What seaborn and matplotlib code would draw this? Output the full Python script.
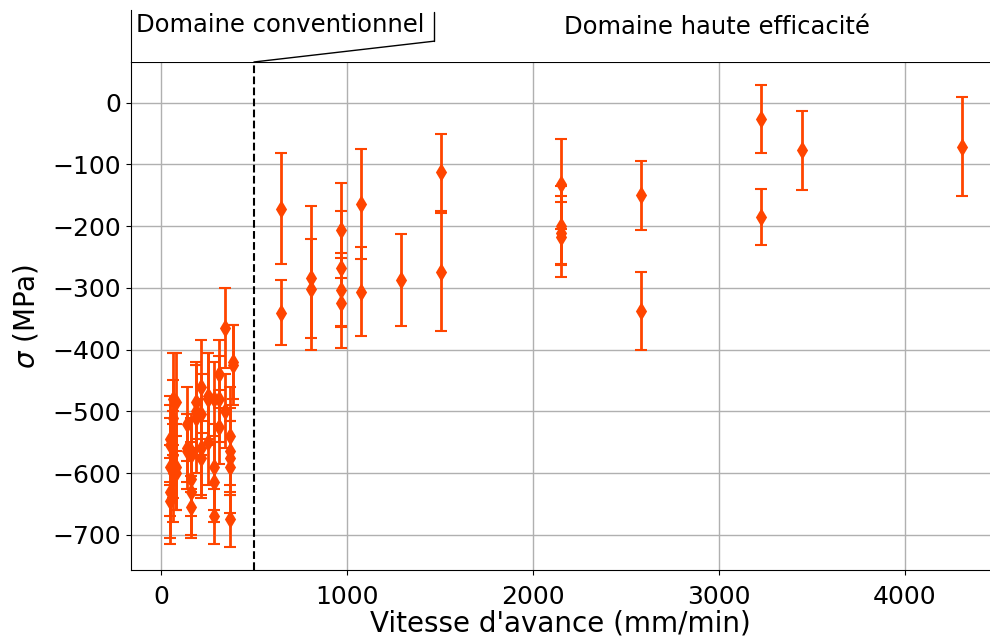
import numpy as np
import pandas as pd
import seaborn as sns
import matplotlib.pyplot as plt

# Feed rate (mm/min), residual stress (MPa) and its uncertainty
vitesse = [50, 50, 50, 50, 50, 65, 65, 65, 65, 80, 80, 80,
           140, 140, 140, 160, 160, 160, 160, 160, 190, 190, 190,
           215, 215, 215, 215, 255, 255, 255, 285, 285, 285, 285,
           310, 310, 310, 345, 345, 370, 370, 370, 370, 370, 385, 385,
           645, 645, 805, 805, 968, 968, 968, 968, 1075, 1075, 1290,
           1505, 1505, 2150, 2150, 2150, 2150, 2580, 2580, 3225, 3225,
           3446, 4306]
sigma = [-545, -555, -590, -630, -645, -570, -600, -510, -480, -485, -600, -590,
         -520, -565, -560, -570, -610, -630, -655, -565, -485, -500, -510,
         -460, -560, -575, -505, -480, -550, -475, -480, -590, -615, -670,
         -440, -525, -480, -365, -500, -540, -565, -590, -675, -575, -425, -420,
         -172, -340, -284, -301, -207, -268, -304, -324, -164, -306, -287,
         -113, -274, -131, -199, -211, -217, -150, -337, -26, -185,
         -77, -71]
erreur = [70, 65, 80, 75, 70, 70, 80, 60, 75, 80, 60, 70,
          60, 60, 55, 60, 60, 70, 50, 60, 60, 75, 90,
          75, 80, 60, 65, 75, 70, 70, 60, 70, 65, 45,
          55, 60, 70, 65, 60, 80, 70, 75, 45, 60, 65, 60,
          90, 52, 117, 80, 77, 93, 60, 73, 89, 72, 74,
          62, 96, 73, 64, 50, 66, 56, 63, 55, 45,
          64, 80]

df = pd.DataFrame({'vitesse': vitesse, 'sigma': sigma, 'erreur': erreur})

couleur = '#ff4500'
sns.set_style('ticks')
plt.rcParams['font.family'] = ['DejaVu Sans']
plt.rcParams['text.color'] = 'black'
plt.rcParams['axes.labelcolor'] = 'black'
plt.rcParams['xtick.color'] = 'black'
plt.rcParams['ytick.color'] = 'black'
plt.rcParams['axes.edgecolor'] = 'black'

fig = plt.figure(figsize=(9.9, 6.41), dpi=100)
ax = fig.add_axes([0.1323, 0.1108, 0.8677, 0.7925])

ax.errorbar(df['vitesse'], df['sigma'], yerr=df['erreur'], fmt='none',
            ecolor=couleur, elinewidth=2, capsize=4.5, capthick=1.5, zorder=2)
sns.scatterplot(data=df, x='vitesse', y='sigma', marker='d', s=90,
                color=couleur, edgecolor=couleur, linewidth=0, ax=ax, zorder=3)

ax.axvline(500, color='black', linestyle='--', linewidth=1.5, zorder=4)
ax.set_xlim(-161, 4457)
ax.set_ylim(-757, 66)
ax.grid(True, color='#b0b0b0', linewidth=1)
ax.set_axisbelow(True)
ax.spines['right'].set_visible(False)
ax.spines['top'].set_visible(True)
ax.set_xticks([0, 1000, 2000, 3000, 4000])
ax.set_yticks([0, -100, -200, -300, -400, -500, -600, -700])
ax.tick_params(labelsize=18)
ax.tick_params(axis='x', pad=7)
ax.set_xlabel("Vitesse d'avance (mm/min)", fontsize=20, labelpad=1)
ax.set_ylabel(r'$\sigma$ (MPa)', fontsize=20, labelpad=9)

# Annotation band above the main axes
top = fig.add_axes([0.1323, 0.9033, 0.8677, 0.0811])
top.set_xlim(ax.get_xlim())
top.set_ylim(0, 1)
for s in ['top', 'right', 'bottom']:
    top.spines[s].set_visible(False)
top.set_xticks([])
top.set_yticks([])
top.plot([500, 1468], [0, 0.40], color='black', linewidth=1, clip_on=False)
top.plot([1468, 1468], [0.40, 0.96], color='black', linewidth=1, clip_on=False)
top.text(-134, 0.71, 'Domaine conventionnel', fontsize=17.5, va='center', ha='left')
top.text(2989, 0.67, 'Domaine haute efficacité', fontsize=17.5, va='center', ha='center')

fig.savefig('out.png', dpi=100)
